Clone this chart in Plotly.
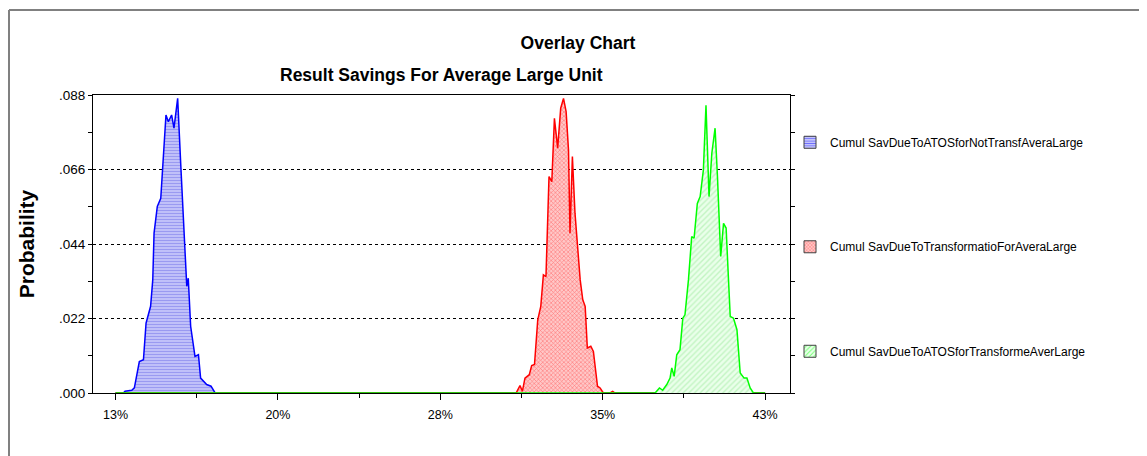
import plotly.graph_objects as go

# ---------------- data ----------------
series_names = [
    "Cumul SavDueToATOSforNotTransfAveraLarge",
    "Cumul SavDueToTransformatioForAveraLarge",
    "Cumul SavDueToATOSforTransformeAverLarge",
]

# savings (%) and probability for each series
x_blue = [12.5, 12.86, 12.94, 13.25, 13.37, 13.48, 13.60, 13.79, 13.91, 14.12, 14.22, 14.28,
          14.43, 14.59, 14.83, 14.94, 15.09, 15.20, 15.37, 15.51, 15.66, 15.79, 15.86,
          15.97, 16.17, 16.33, 16.43, 16.71, 16.91, 17.10, 42.5]
y_blue = [0.0, 0.0, 0.0005, 0.0008, 0.0015, 0.0054, 0.0093, 0.0098, 0.0206, 0.0256, 0.0334, 0.0472,
          0.0551, 0.0575, 0.0821, 0.0801, 0.0821, 0.0782, 0.0870, 0.0678, 0.0492, 0.0315, 0.0339,
          0.0197, 0.0108, 0.0113, 0.0044, 0.0025, 0.0020, 0.0, 0.0]

x_red = [12.5, 31.00, 31.18, 31.29, 31.41, 31.61, 31.72, 31.85, 32.00, 32.14, 32.26, 32.38, 32.52,
         32.65, 32.77, 32.92, 33.06, 33.19, 33.31, 33.42, 33.49, 33.60, 33.72, 33.83, 33.96,
         34.08, 34.19, 34.29, 34.45, 34.57, 34.76, 34.88, 35.03, 35.34, 35.46, 35.57, 42.5]
y_red = [0.0, 0.0, 0.0022, 0.0005, 0.0044, 0.0054, 0.0081, 0.0084, 0.0216, 0.0256, 0.0349, 0.0344,
         0.0639, 0.0624, 0.0811, 0.0723, 0.0841, 0.0870, 0.0831, 0.0718, 0.0472, 0.0698, 0.0531,
         0.0433, 0.0334, 0.0275, 0.0256, 0.0133, 0.0138, 0.0123, 0.0020, 0.0015, 0.0, 0.0, 0.0005,
         0.0, 0.0]

x_green = [12.5, 37.42, 37.62, 37.77, 37.96, 38.11, 38.19, 38.30, 38.42, 38.57, 38.70, 38.80, 38.96,
           39.11, 39.22, 39.37, 39.50, 39.65, 39.77, 39.91, 40.04, 40.19, 40.30, 40.45, 40.58,
           40.70, 40.81, 40.89, 41.04, 41.20, 41.35, 41.53, 41.66, 41.81, 41.96, 42.5]
y_green = [0.0, 0.0, 0.0015, 0.0008, 0.0025, 0.0044, 0.0074, 0.0049, 0.0113, 0.0128, 0.0221, 0.0231,
           0.0334, 0.0462, 0.0457, 0.0560, 0.0580, 0.0659, 0.0850, 0.0580, 0.0708, 0.0782, 0.0639,
           0.0403, 0.0501, 0.0487, 0.0334, 0.0226, 0.0221, 0.0187, 0.0059, 0.0044, 0.0044, 0.0015,
           0.0, 0.0]

x_tick_vals = [12.5, 20.0, 27.5, 35.0, 42.5]
x_tick_text = ["13%", "20%", "28%", "35%", "43%"]
x_minor_vals = [16.25, 23.75, 31.25, 38.75]
y_tick_vals = [0.0, 0.022, 0.044, 0.066, 0.088]
y_tick_text = [".000", ".022", ".044", ".066", ".088"]
y_minor_vals = [0.011, 0.033, 0.055, 0.077]

# ---------------- styles ----------------
FONT = "Liberation Sans, Arial, sans-serif"
W, H = 1139, 448            # page has an 8px body margin
L, R, T, B = 85, 357, 87, 63
PW, PH = W - L - R, H - T - B

styles = [
    dict(line="#0000ff", shape="-", fg="#7070e8", bg="#c4c4fa", size=3, sol=0.4),
    dict(line="#ff0000", shape="x", fg="#ff2020", bg="#ffc8c8", size=3, sol=0.35),
    dict(line="#00ff00", shape="/", fg="#9aea9a", bg="#eaffea", size=4, sol=0.35),
]
xs = [x_blue, x_red, x_green]
ys = [y_blue, y_red, y_green]

fig = go.Figure()
for i in range(3):
    s = styles[i]
    fig.add_trace(go.Scatter(
        x=xs[i], y=ys[i], mode="lines", fill="tozeroy",
        line=dict(color=s["line"], width=1.5),
        fillcolor=s["bg"],
        fillpattern=dict(shape=s["shape"], fgcolor=s["fg"], bgcolor=s["bg"],
                         size=s["size"], solidity=s["sol"]),
        showlegend=False, hoverinfo="skip",
    ))

# legend swatches (square patterned keys)
for i in range(3):
    s = styles[i]
    fig.add_trace(go.Bar(
        x=[None], y=[None], name=series_names[i], legendgroup=f"g{i}",
        marker=dict(color=s["bg"],
                    pattern=dict(shape=s["shape"], fgcolor=s["line"], bgcolor=s["bg"],
                                 size=s["size"], solidity=0.3),
                    line=dict(color="#404040", width=1)),
    ))

fig.update_layout(
    width=W, height=H,
    margin=dict(l=L, r=R, t=T, b=B, autoexpand=False),
    paper_bgcolor="white", plot_bgcolor="white",
    font=dict(family=FONT, size=12, color="black"),
    title=dict(text="<b>Overlay Chart</b>", x=570 / W, xref="container", xanchor="center",
               y=1 - 35 / H, yref="container", yanchor="middle",
               font=dict(family=FONT, size=17.5, color="black")),
    legend=dict(x=1.0, xanchor="left", y=0.89, yanchor="top",
                tracegroupgap=85.5, traceorder="grouped",
                font=dict(family=FONT, size=12, color="black"),
                bgcolor="rgba(0,0,0,0)"),
    showlegend=True,
)

fig.update_xaxes(
    type="linear", range=[11.46, 43.65],
    tickmode="array", tickvals=x_tick_vals, ticktext=x_tick_text,
    ticks="outside", ticklen=6, tickcolor="black", tickwidth=1,
    tickfont=dict(family=FONT, size=12.5, color="black"),
    ticklabelstandoff=4,
    minor=dict(tickvals=x_minor_vals, ticks="outside", ticklen=4, tickcolor="black", showgrid=False),
    showline=True, linecolor="black", linewidth=1, mirror=True,
    showgrid=False, zeroline=False,
)
fig.update_yaxes(
    range=[0, 0.088],
    tickmode="array", tickvals=y_tick_vals, ticktext=y_tick_text,
    ticks="outside", ticklen=4, tickcolor="black", tickwidth=1,
    tickfont=dict(family=FONT, size=13.5, color="black"),
    minor=dict(tickvals=y_minor_vals, ticks="outside", ticklen=4, tickcolor="black", showgrid=False),
    showline=True, linecolor="black", linewidth=1, mirror="ticks",
    showgrid=True, gridcolor="black", griddash="dot", gridwidth=1,
    zeroline=False,
    title=dict(text="<b>Probability</b>", font=dict(family=FONT, size=21, color="black"), standoff=18),
)

fig.add_annotation(
    text="<b>Result Savings For Average Large Unit</b>",
    x=0.5, xref="paper", xanchor="center",
    y=(PH + T - 67) / PH, yref="paper", yanchor="middle",
    showarrow=False, font=dict(family=FONT, size=17.5, color="black"),
)

# outer frame (top and left edges visible in the reference)
fx0 = (1 - L) / PW
fy_top = (PH + T - 2) / PH
fig.add_shape(type="line", xref="paper", yref="paper",
              x0=fx0, x1=(W - L) / PW, y0=fy_top, y1=fy_top,
              line=dict(color="#808080", width=2))
fig.add_shape(type="line", xref="paper", yref="paper",
              x0=fx0, x1=fx0, y0=fy_top, y1=(PH + T - H) / PH,
              line=dict(color="#808080", width=2))

fig.write_html("out.html")
